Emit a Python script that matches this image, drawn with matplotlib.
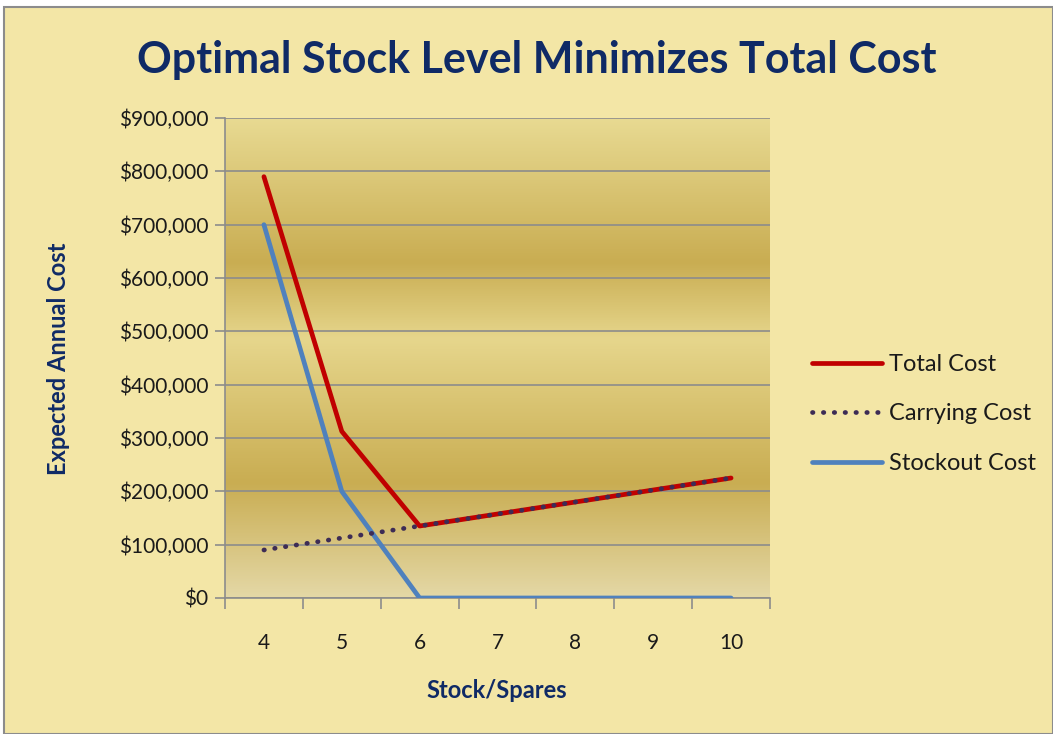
import matplotlib

matplotlib.use("Agg")
import matplotlib.pyplot as plt
import numpy as np
from matplotlib.colors import LinearSegmentedColormap
from matplotlib.patches import Rectangle
from matplotlib.ticker import FuncFormatter, FixedLocator

# data
stock = [4, 5, 6, 7, 8, 9, 10]
total_cost = [790000, 312500, 135000, 157500, 180000, 202500, 225000]
carrying_cost = [90000, 112500, 135000, 157500, 180000, 202500, 225000]
stockout_cost = [700000, 200000, 0, 0, 0, 0, 0]

NAVY = "#0F2A66"
BG = "#F3E6A6"
FONT = ["Lato", "DejaVu Sans"]

plt.rcParams["font.family"] = FONT

fig = plt.figure(figsize=(10.53, 7.34), dpi=100)
fig.patch.set_facecolor("white")
fig.patches.append(Rectangle((0.004, 0.0), 0.996, 0.99, transform=fig.transFigure,
                             facecolor=BG, edgecolor="#8C8C8C", linewidth=1.5, zorder=-10))

W, H = 1053, 734
left, right, top, bottom = 225, 770, 118, 598
ax = fig.add_axes([left / W, 1 - bottom / H, (right - left) / W, (bottom - top) / H])
ax.set_facecolor("none")

# banded gold gradient behind the plot
grad = LinearSegmentedColormap.from_list("gold", [
    (0.00, "#E8DA92"), (0.30, "#C9AD52"), (0.46, "#E6D68C"),
    (0.76, "#C9AD52"), (1.00, "#E4D8A6")])
ax.imshow(np.linspace(0, 1, 256).reshape(-1, 1), cmap=grad, aspect="auto",
          extent=[0, 1, 0, 1], transform=ax.transAxes, zorder=0)

x = np.arange(len(stock))
ax.plot(x, total_cost, color="#C00000", lw=3.4, solid_capstyle="round", zorder=3,
        label="Total Cost")
ax.plot(x, carrying_cost, color="#3D2C55", lw=3.4, linestyle=(0, (0.1, 2.2)),
        dash_capstyle="round", zorder=4, label="Carrying Cost")
ax.plot(x, stockout_cost, color="#4F81BD", lw=3.4, solid_capstyle="round", zorder=3,
        label="Stockout Cost")

ax.set_xlim(-0.5, len(stock) - 0.5)
ax.set_ylim(0, 900000)
ax.set_yticks(np.arange(0, 900001, 100000))
ax.yaxis.set_major_formatter(FuncFormatter(lambda v, p: f"${v:,.0f}"))
ax.grid(axis="y", color="#8C8C8C", lw=1.2, zorder=1)
ax.set_axisbelow(False)

ax.set_xticks(x)
ax.set_xticklabels([str(s) for s in stock])
ax.xaxis.set_minor_locator(FixedLocator(np.arange(-0.5, len(stock), 1.0)))
ax.tick_params(axis="x", which="major", length=0, pad=25, labelsize=15, labelcolor="#1A1A1A")
ax.tick_params(axis="x", which="minor", length=8, color="#8C8C8C", width=1.2)
ax.tick_params(axis="y", length=7, color="#8C8C8C", width=1.2, pad=5,
               labelsize=15, labelcolor="#1A1A1A")

for side in ("top", "right"):
    ax.spines[side].set_visible(False)
for side in ("left", "bottom"):
    ax.spines[side].set_color("#8C8C8C")
    ax.spines[side].set_linewidth(1.2)

fig.text(537 / W, 1 - 60 / H, "Optimal Stock Level Minimizes Total Cost", ha="center",
         va="center", fontsize=31, fontweight="bold", color=NAVY)
fig.text(58 / W, 1 - 359 / H, "Expected Annual Cost", rotation=90, ha="center",
         va="center", fontsize=17, fontweight="bold", color=NAVY)
fig.text(497 / W, 1 - 691 / H, "Stock/Spares", ha="center", va="center",
         fontsize=17, fontweight="bold", color=NAVY)

leg = ax.legend(loc="center left", bbox_to_anchor=(791 / W, 1 - 414 / H),
                bbox_transform=fig.transFigure, frameon=False, fontsize=17,
                handlelength=2.95, handletextpad=0.3, labelspacing=1.2,
                labelcolor="#1A1A1A")

fig.savefig("out.png", dpi=100, facecolor=fig.get_facecolor())
